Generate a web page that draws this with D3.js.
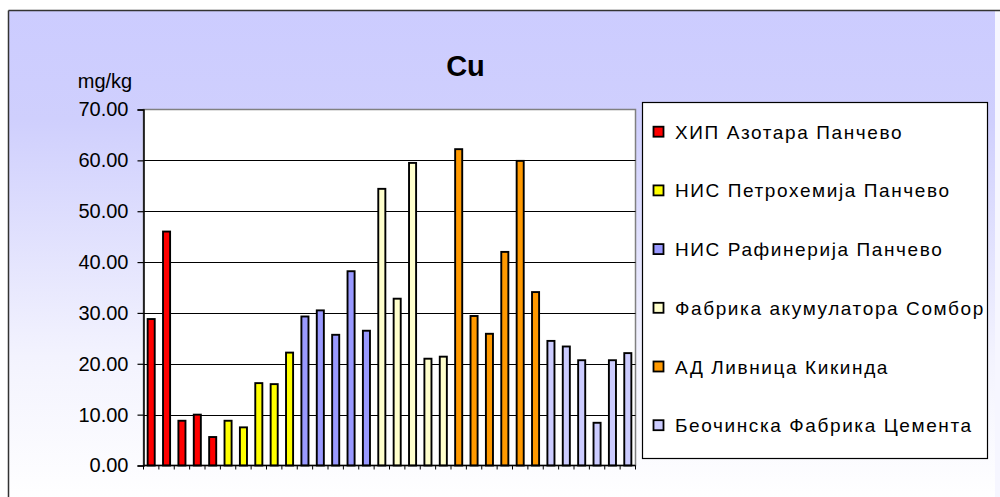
<!DOCTYPE html>
<html>
<head>
<meta charset="utf-8">
<script src="https://cdn.jsdelivr.net/npm/d3@7/dist/d3.min.js"></script>
<style>
  html, body { margin: 0; padding: 0; background: #ffffff; }
  svg { display: block; font-family: "Liberation Sans", Arial, sans-serif; }
</style>
</head>
<body>
<svg id="chart" width="1000" height="497"></svg>
<script>
// ---- data ----
const title = "Cu";
const unitLabel = "mg/kg";
const seriesNames = [
  "ХИП Азотара Панчево",
  "НИС Петрохемија Панчево",
  "НИС Рафинерија Панчево",
  "Фабрика акумулатора Сомбор",
  "АД Ливница Кикинда",
  "Беочинска Фабрика Цемента"
];
const seriesColors = ["#FF0000", "#FFFF00", "#9999FF", "#FFFFCC", "#FF9900", "#CCCCFF"];
const azotaraValues = [28.8, 46.0, 8.8, 10.0, 5.6];
const petrohemijaValues = [8.8, 7.5, 16.2, 16.0, 22.2];
const rafinerijaValues = [29.3, 30.5, 25.7, 38.2, 26.5];
const somborValues = [54.4, 32.8, 59.5, 21.0, 21.4];
const kikindaValues = [62.2, 29.4, 25.9, 42.0, 59.9, 34.1];
const beocinValues = [24.5, 23.4, 20.7, 8.4, 20.7, 22.1];
const yTicks = [0, 10, 20, 30, 40, 50, 60, 70];

const seriesValues = [azotaraValues, petrohemijaValues, rafinerijaValues, somborValues, kikindaValues, beocinValues];

// flatten into bars
const bars = [];
seriesValues.forEach((vals, s) => vals.forEach(v => bars.push({ s, v, i: bars.length })));

const svg = d3.select("#chart");

// ---- background ----
const defs = svg.append("defs");
const grad = defs.append("linearGradient").attr("id", "bg").attr("x1", 0).attr("y1", 0).attr("x2", 0).attr("y2", 1);
grad.append("stop").attr("offset", "0%").attr("stop-color", "#CCCCFF");
grad.append("stop").attr("offset", "22%").attr("stop-color", "#CFCFFD");
grad.append("stop").attr("offset", "70%").attr("stop-color", "#F3F3FE");
grad.append("stop").attr("offset", "100%").attr("stop-color", "#FFFFFF");

svg.append("rect").attr("x", 995).attr("y", 10).attr("width", 10).attr("height", 490).attr("fill", "#F6F6FF");
svg.append("rect").attr("x", 8.5).attr("y", 10.5).attr("width", 986.5).attr("height", 495)
  .attr("fill", "url(#bg)");
svg.append("line").attr("x1", 8.5).attr("x2", 1000).attr("y1", 10.5).attr("y2", 10.5).attr("stroke", "#333").attr("stroke-width", 1.5);
svg.append("line").attr("x1", 8.5).attr("x2", 8.5).attr("y1", 10.5).attr("y2", 497).attr("stroke", "#333").attr("stroke-width", 1.5);

// ---- scales ----
const plotL = 143.5, plotR = 635.5, plotT = 109.5, plotB = 465.5;
const x = d3.scaleBand().domain(bars.map(d => d.i)).range([plotL, plotR]).paddingInner(0.54).paddingOuter(0.27);
const y = d3.scaleLinear().domain([0, 70]).range([plotB, plotT]);

// plot area
svg.append("rect").attr("x", plotL).attr("y", plotT).attr("width", plotR - plotL).attr("height", plotB - plotT)
  .attr("fill", "#FFFFFF").attr("stroke", "#808080").attr("stroke-width", 1.5);

// gridlines
svg.append("g").selectAll("line").data(yTicks.filter(t => t > 0 && t < 70)).join("line")
  .attr("x1", plotL).attr("x2", plotR)
  .attr("y1", d => Math.round(y(d)) + 0.5).attr("y2", d => Math.round(y(d)) + 0.5)
  .attr("stroke", "#000").attr("stroke-width", 1);

// bars
svg.append("g").selectAll("rect").data(bars).join("rect")
  .attr("x", d => x(d.i))
  .attr("y", d => y(d.v))
  .attr("width", x.bandwidth())
  .attr("height", d => y(0) - y(d.v))
  .attr("fill", d => seriesColors[d.s])
  .attr("stroke", "#000").attr("stroke-width", 1.9);

// y axis
const yAxis = d3.axisLeft(y).tickValues(yTicks).tickFormat(d3.format(".2f")).tickSize(6).tickPadding(9);
const gy = svg.append("g").attr("transform", `translate(${plotL},0)`).call(yAxis);
gy.select(".domain").attr("stroke", "#000").attr("stroke-width", 1.5);
gy.selectAll(".tick line").attr("stroke", "#000").attr("stroke-width", 1.2);
gy.selectAll(".tick text").attr("font-size", 20).attr("fill", "#000")
  .attr("font-family", "Liberation Sans, Arial, sans-serif");

// x axis ticks at category boundaries
const boundaries = d3.range(bars.length + 1).map(k => plotL + k * x.step());
svg.append("g").selectAll("line").data(boundaries).join("line")
  .attr("x1", d => d).attr("x2", d => d)
  .attr("y1", plotB).attr("y2", plotB + 4)
  .attr("stroke", "#000").attr("stroke-width", 1);
svg.append("line").attr("x1", plotL).attr("x2", plotR).attr("y1", plotB).attr("y2", plotB)
  .attr("stroke", "#000").attr("stroke-width", 1.5);

// title & unit
svg.append("text").attr("x", 465.5).attr("y", 76).attr("text-anchor", "middle")
  .attr("font-size", 29).attr("font-weight", "bold").attr("fill", "#000").text(title);
svg.append("text").attr("x", 105).attr("y", 88).attr("text-anchor", "middle")
  .attr("font-size", 20).attr("fill", "#000").text(unitLabel);

// legend
const lg = svg.append("g");
lg.append("rect").attr("x", 642.5).attr("y", 102.5).attr("width", 345).attr("height", 356)
  .attr("fill", "#FFFFFF").attr("stroke", "#000").attr("stroke-width", 1.2);
const items = lg.selectAll("g.item").data(seriesNames).join("g").attr("class", "item")
  .attr("transform", (d, k) => `translate(0,${131.7 + k * 58.7})`);
items.append("rect").attr("x", 653.5).attr("y", -5).attr("width", 10).attr("height", 10)
  .attr("fill", (d, k) => seriesColors[k]).attr("stroke", "#000").attr("stroke-width", 1.8);
items.append("text").attr("x", 675).attr("y", 7).attr("font-size", 19).attr("fill", "#000")
  .attr("letter-spacing", 1.6).text(d => d);
</script>
</body>
</html>
